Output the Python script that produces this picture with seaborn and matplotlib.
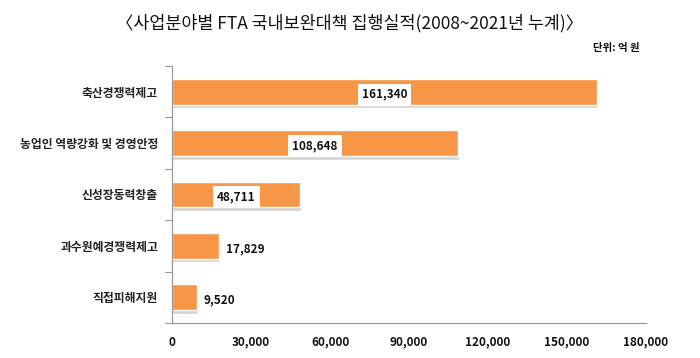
import matplotlib
matplotlib.use("Agg")
import matplotlib.pyplot as plt
import seaborn as sns
import pandas as pd
from matplotlib.ticker import FuncFormatter

categories = ["축산경쟁력제고", "농업인 역량강화 및 경영안정", "신성장동력창출", "과수원예경쟁력제고", "직접피해지원"]
values = [161340, 108648, 48711, 17829, 9520]
xticks = [0, 30000, 60000, 90000, 120000, 150000, 180000]

sns.set_theme(style="white")
plt.rcParams['font.family'] = ['Noto Sans CJK KR', 'DejaVu Sans']

df = pd.DataFrame({"cat": categories, "val": values})

fig = plt.figure(figsize=(7, 3.58), dpi=100)
ax = fig.add_axes([172/700, 1-323/358, (646-172)/700, (323-66)/358])

# shadow
for i, v in enumerate(values):
    ax.barh(i + 0.07, v + 300, height=0.5, left=0, color="#d4d4d4", zorder=1)

sns.barplot(data=df, x="val", y="cat", orient="h", color="#F79646", saturation=1,
            width=0.5, ax=ax, zorder=2)

ax.set_xlim(0, 180000)
ax.set_ylim(4.5, -0.5)
ax.set_xticks(xticks)
ax.xaxis.set_major_formatter(FuncFormatter(lambda x, p: f"{int(x):,}"))
ax.set_xlabel("")
ax.set_ylabel("")

for lbl in ax.get_xticklabels():
    lbl.set_fontweight("bold")
    lbl.set_fontsize(8.5)
    lbl.set_color("#111111")
for lbl in ax.get_yticklabels():
    lbl.set_fontsize(8.5)
    lbl.set_fontweight("bold")
    lbl.set_color("#222222")

ax.tick_params(axis="y", length=0, pad=10)
ax.tick_params(axis="x", length=4, width=0.8, color="#999999", direction="out", pad=5)
for t in [-0.5, 0.5, 1.5, 2.5, 3.5, 4.5]:
    ax.plot([-2500, 0], [t, t], color="#999999", lw=0.8, clip_on=False, zorder=3)

for s in ["top", "right"]:
    ax.spines[s].set_visible(False)
for s in ["left", "bottom"]:
    ax.spines[s].set_color("#999999")
    ax.spines[s].set_linewidth(0.9)

for i, v in enumerate(values):
    txt = f"{v:,}"
    if v > 40000:
        ax.text(v / 2, i + 0.05, txt, ha="center", va="center", fontsize=8.5, fontweight="bold",
                color="#111111", zorder=4,
                bbox=dict(boxstyle="square,pad=0.35", fc="white", ec="none"))
    else:
        ax.text(v + 2500, i + 0.05, txt, ha="left", va="center", fontsize=8.5, fontweight="bold",
                color="#111111", zorder=4)

fig.text(0.5, 1-23/358, "〈사업분야별 FTA 국내보완대책 집행실적(2008~2021년 누계)〉",
         ha="center", va="center", fontsize=12.5, color="#111111")
fig.text(640/700, 1-48/358, "단위: 억 원", ha="right", va="center", fontsize=7.5,
         fontweight="bold", color="#111111")

fig.savefig("out.png", dpi=100)
